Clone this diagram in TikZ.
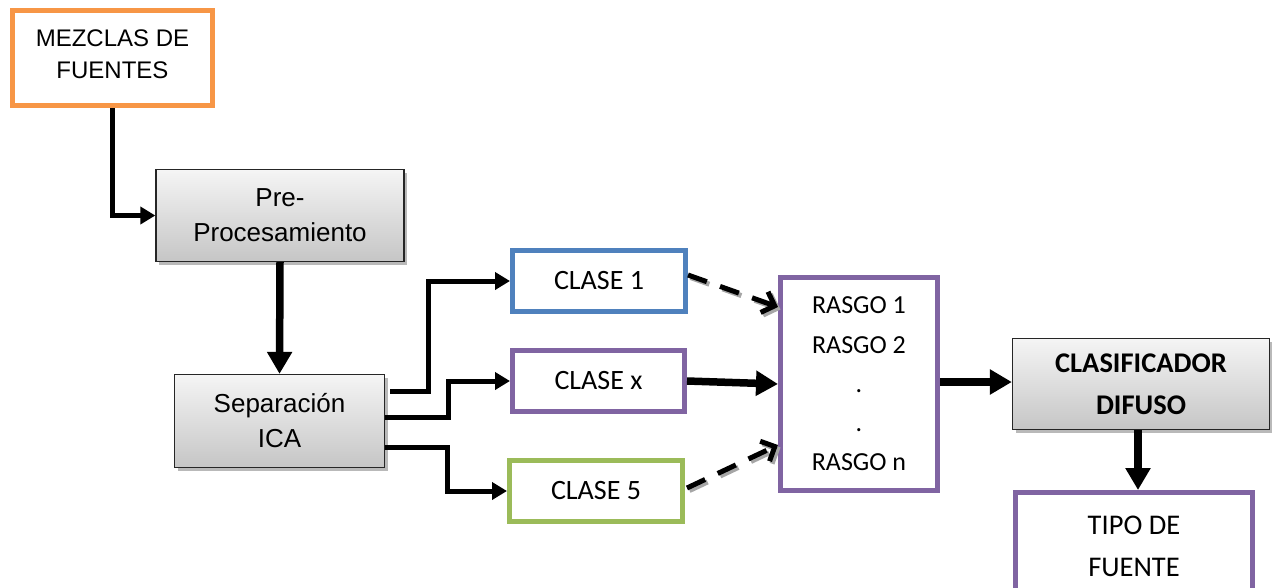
\documentclass[tikz,border=0pt]{standalone}
\usepackage{fontspec}
\setmainfont{Liberation Sans}
\newfontfamily\calf{Carlito}
\usetikzlibrary{arrows.meta,shadows,calc}
\definecolor{cOrange}{HTML}{F79646}
\definecolor{cBlue}{HTML}{4F81BD}
\definecolor{cPurple}{HTML}{8064A2}
\definecolor{cGreen}{HTML}{9BBB59}
\tikzset{
  plainbox/.style={draw, line width=5pt, fill=white, align=center, inner sep=0pt},
  graybox/.style={draw=black!85, line width=1.3pt, top color=gray!8, bottom color=gray!45,
    drop shadow={shadow xshift=3pt, shadow yshift=-3pt, fill=black!50, opacity=0.55},
    align=center, inner sep=0pt},
  arialtxt/.style={font=\fontsize{26}{35}\selectfont},
  conn/.style={line width=5pt, -{Triangle[length=15pt,width=17pt]}},
  thickconn/.style={line width=7.5pt, -{Triangle[length=22pt,width=24pt]}},
  dasharr/.style={line width=5pt, dash pattern=on 20pt off 14pt,
    -{Straight Barb[length=11pt,width=22pt,line width=5pt]}},
}
\begin{document}
\begin{tikzpicture}[x=1pt,y=-1pt]
\useasboundingbox (0,0) rectangle (1272,587);
\clip (0,0) rectangle (1272,587);

% nodes
\node[plainbox, draw=cOrange, minimum width=200pt, minimum height=95pt,
  font=\fontsize{24}{32}\selectfont] (mez) at (112.5,58) {MEZCLAS DE\\FUENTES\\[-25pt]\mbox{}};
\node[graybox, arialtxt, minimum width=248pt, minimum height=92pt] (pre) at (280,215.5) {Pre-\\Procesamiento};
\node[graybox, arialtxt, minimum width=210pt, minimum height=93pt] (sep) at (279.5,421) {Separación\\ICA};

\node[plainbox, draw=cBlue, minimum width=173pt, minimum height=61pt,
  font=\calf\fontsize{28}{34}\selectfont] (c1) at (599,281) {CLASE 1};
\node[plainbox, draw=cPurple, minimum width=172pt, minimum height=61pt,
  font=\calf\fontsize{28}{34}\selectfont] (cx) at (598.5,381) {CLASE x};
\node[plainbox, draw=cGreen, minimum width=173pt, minimum height=61pt,
  font=\calf\fontsize{28}{34}\selectfont] (c5) at (596,491) {CLASE 5};

\node[plainbox, draw=cPurple, minimum width=157pt, minimum height=213pt,
  font=\calf\fontsize{26}{39.25}\selectfont] (ras) at (859,384)
  {RASGO 1\\RASGO 2\\.\\.\\RASGO n};

\node[graybox, minimum width=257pt, minimum height=91pt,
  font=\calf\bfseries\fontsize{28.5}{42}\selectfont] (cla) at (1141,384) {CLASIFICADOR\\DIFUSO};
\node[plainbox, draw=cPurple, minimum width=237pt, minimum height=107pt,
  font=\calf\fontsize{28.5}{42}\selectfont] (tipo) at (1134,546) {TIPO DE\\FUENTE};

% connectors
\draw[conn] (mez.south) |- (pre.west);
\draw[thickconn] (pre.south) -- (sep.north);

\coordinate (s1) at ($(sep.east)+(5,-30)$);
\draw[conn] (s1) -- ++(38,0) |- (c1.west);
\draw[conn] ([yshift=4pt]sep.east) -- ++(63,0) |- (cx.west);
\draw[conn] ([yshift=-26pt]sep.east) -- ++(62,0) |- (c5.west);

\draw[dasharr, black!35, transform canvas={shift={(2.5pt,-2.5pt)}}] ([yshift=6pt]c1.east) -- ([yshift=77pt]ras.west);
\draw[dasharr] ([yshift=6pt]c1.east) -- ([yshift=77pt]ras.west);
\draw[dasharr, black!35, transform canvas={shift={(2.5pt,-2.5pt)}}] ([xshift=2pt,yshift=3pt]c5.east) -- ([yshift=-61pt]ras.west);
\draw[dasharr] ([xshift=2pt,yshift=3pt]c5.east) -- ([yshift=-61pt]ras.west);

\draw[thickconn] (cx.east) -- (ras.west);
\draw[thickconn] ([yshift=2pt]ras.east) -- ([yshift=2pt]cla.west);
\draw[thickconn] ([xshift=-3pt]cla.south) -- ([xshift=-3pt]cla.south |- tipo.north);
\end{tikzpicture}
\end{document}
